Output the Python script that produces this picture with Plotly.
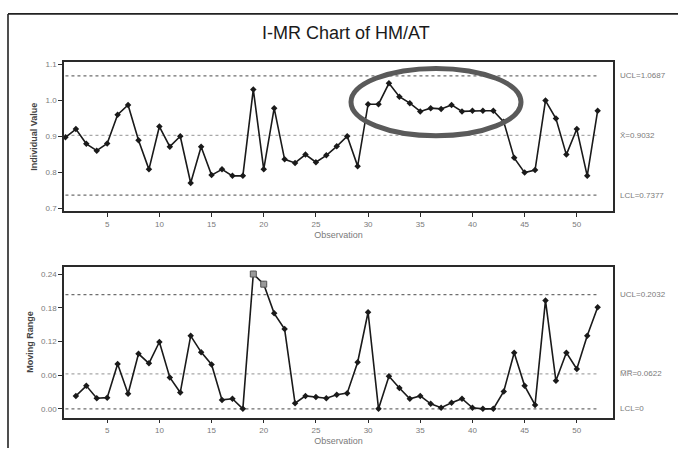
import plotly.graph_objects as go
from plotly.subplots import make_subplots

W, H = 678, 450

# Individual HM/AT readings, observations 1..52
observation = list(range(1, 53))
individual = [0.898, 0.921, 0.880, 0.861, 0.881, 0.961, 0.988, 0.890, 0.809, 0.928,
              0.872, 0.901, 0.771, 0.872, 0.793, 0.809, 0.791, 0.791, 1.031, 0.809,
              0.979, 0.837, 0.827, 0.850, 0.829, 0.848, 0.873, 0.901, 0.818, 0.990,
              0.990, 1.048, 1.011, 0.993, 0.970, 0.979, 0.977, 0.988, 0.970, 0.972,
              0.972, 0.972, 0.941, 0.841, 0.800, 0.807, 1.000, 0.950, 0.850, 0.921,
              0.791, 0.972]

# Moving ranges, observations 2..52
mr_observation = list(range(2, 53))
moving_range = [0.023, 0.041, 0.019, 0.020, 0.080, 0.027, 0.098, 0.081, 0.119, 0.056,
                0.029, 0.130, 0.101, 0.079, 0.016, 0.018, 0.000, 0.240, 0.222, 0.170,
                0.142, 0.010, 0.023, 0.021, 0.019, 0.025, 0.028, 0.083, 0.172, 0.000,
                0.058, 0.037, 0.018, 0.023, 0.009, 0.002, 0.011, 0.018, 0.002, 0.000,
                0.000, 0.031, 0.100, 0.041, 0.007, 0.193, 0.050, 0.100, 0.071, 0.130,
                0.181]

# Control limits
i_ucl, i_center, i_lcl = 1.0687, 0.9032, 0.7377
mr_ucl, mr_center, mr_lcl = 0.2032, 0.0622, 0.0

i_ticks = [0.7, 0.8, 0.9, 1.0, 1.1]
mr_ticks = [0.00, 0.06, 0.12, 0.18, 0.24]
x_ticks = [5, 10, 15, 20, 25, 30, 35, 40, 45, 50]


def px_x(p):
    return p / W


def px_y(p):
    return 1 - p / H


fig = make_subplots(rows=2, cols=1)

LINE = "#1a1a1a"
LIMIT = "#6e6e6e"
CENTER = "#a8a8a8"
TXT = "#7a7a7a"
FONT = "Liberation Sans, Arial, sans-serif"

span = [observation[0], observation[-1]]

# ---- Individuals chart ----
for val, col in [(i_ucl, LIMIT), (i_center, CENTER), (i_lcl, LIMIT)]:
    fig.add_trace(go.Scatter(x=span, y=[val, val], mode="lines",
                             line=dict(color=col, width=1.3, dash="dot"),
                             hoverinfo="skip", showlegend=False), row=1, col=1)
fig.add_trace(go.Scatter(x=observation, y=individual, mode="lines+markers",
                         line=dict(color=LINE, width=1.6),
                         marker=dict(symbol="diamond", size=5, color=LINE),
                         showlegend=False), row=1, col=1)

# ---- Moving range chart ----
for val, col in [(mr_ucl, LIMIT), (mr_center, CENTER), (mr_lcl, LIMIT)]:
    fig.add_trace(go.Scatter(x=span, y=[val, val], mode="lines",
                             line=dict(color=col, width=1.3, dash="dot"),
                             hoverinfo="skip", showlegend=False), row=2, col=1)
fig.add_trace(go.Scatter(x=mr_observation, y=moving_range, mode="lines+markers",
                         line=dict(color=LINE, width=1.6),
                         marker=dict(symbol="diamond", size=5, color=LINE),
                         showlegend=False), row=2, col=1)
flag_x = [o for o, v in zip(mr_observation, moving_range) if v > mr_ucl]
flag_y = [v for v in moving_range if v > mr_ucl]
fig.add_trace(go.Scatter(x=flag_x, y=flag_y, mode="markers",
                         marker=dict(symbol="square", size=6, color="#9a9a9a",
                                     line=dict(color="#555", width=1)),
                         showlegend=False), row=2, col=1)

axis_common = dict(showline=True, mirror=True, linecolor="#2a2a2a", linewidth=1.6,
                   ticks="outside", ticklen=4, tickwidth=1.2, tickcolor="#2a2a2a",
                   showgrid=False, zeroline=False,
                   tickfont=dict(family=FONT, size=8, color=TXT))

xdom = [px_x(64), px_x(613)]
fig.update_xaxes(**axis_common, range=[0.86, 53.47], tickvals=x_ticks,
                 title=dict(text="Observation", standoff=4,
                            font=dict(family=FONT, size=9, color=TXT)))
fig.update_layout(
    xaxis=dict(domain=xdom),
    xaxis2=dict(domain=xdom),
    yaxis=dict(**axis_common, domain=[px_y(211), px_y(60.7)], range=[0.693, 1.1068],
               tickvals=i_ticks, tickformat=".1f",
               title=dict(text="<b>Individual Value</b>", standoff=6,
                          font=dict(family=FONT, size=9, color="#444"))),
    yaxis2=dict(**axis_common, domain=[px_y(419.3), px_y(267)], range=[-0.0155, 0.2532],
                tickvals=mr_ticks, tickformat=".2f",
                title=dict(text="<b>Moving Range</b>", standoff=6,
                           font=dict(family=FONT, size=9, color="#444"))),
)

# Limit labels on the right side
label_font = dict(family=FONT, size=8, color=TXT)
for txt, val, yref in [("UCL=%.4f" % i_ucl, i_ucl, "y"),
                       ("X\u0304=%.4f" % i_center, i_center, "y"),
                       ("LCL=%.4f" % i_lcl, i_lcl, "y"),
                       ("UCL=%.4f" % mr_ucl, mr_ucl, "y2"),
                       ("M\u0305R\u0305=%.4f" % mr_center, mr_center, "y2"),
                       ("LCL=%g" % mr_lcl, mr_lcl, "y2")]:
    fig.add_annotation(x=px_x(618), xref="paper", xanchor="left",
                       y=val, yref=yref, yanchor="middle",
                       text=txt, showarrow=False, font=label_font)

# Title
fig.add_annotation(x=px_x(346), y=px_y(31), xref="paper", yref="paper",
                   xanchor="center", yanchor="middle",
                   text="I-MR Chart of HM/AT", showarrow=False,
                   font=dict(family=FONT, size=18, color="#1a1a1a"))

# Outer graph frame (top and left edges)
fig.add_shape(type="line", xref="paper", yref="paper",
              x0=px_x(8), x1=1, y0=px_y(12), y1=px_y(12),
              line=dict(color="#222", width=1.6))
fig.add_shape(type="line", xref="paper", yref="paper",
              x0=px_x(8), x1=px_x(8), y0=0, y1=px_y(12),
              line=dict(color="#222", width=1.6))

# Highlight ring around the high run of observations
fig.add_shape(type="circle", xref="paper", yref="paper",
              x0=px_x(351), x1=px_x(521), y0=px_y(135), y1=px_y(67),
              line=dict(color="#5a5a5a", width=5))

fig.update_layout(width=W, height=H, margin=dict(l=0, r=0, t=0, b=0),
                  paper_bgcolor="white", plot_bgcolor="white", showlegend=False)

fig.write_html("out.html")
